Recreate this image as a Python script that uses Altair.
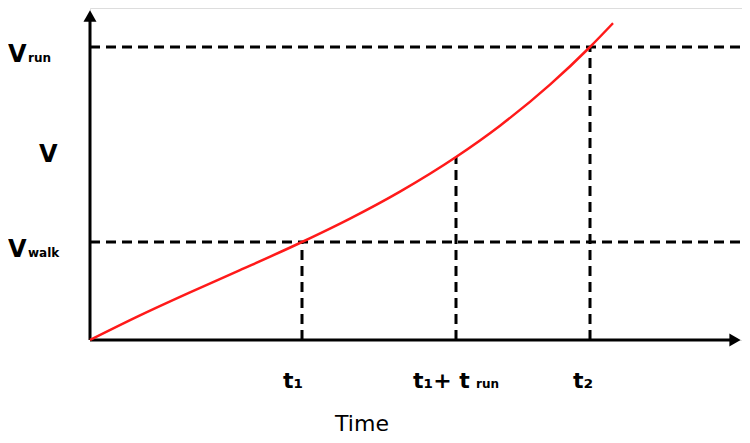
import altair as alt
import pandas as pd

# Curve (time, speed) in chart units
curve_t = [0, 50, 100, 150, 212, 260, 310, 366, 410, 460, 500, 523]
curve_v = [0, 24.6, 47.6, 69.8, 98, 121.4, 148.4, 183, 214.3, 255.4, 293, 316.8]

# Key levels
t_marks = [212, 366, 500]          # t1, t1+t_run, t2
t_main = ["t₁", "t₁+ t", "t₂"]
t_sub = ["", "run", ""]
v_levels = [98, 183, 293]          # V_walk, V, V_run
v_main = ["V", "V", "V"]
v_sub = ["walk", "", "run"]

X_MAX = 652
Y_MAX = 332

xs = alt.Scale(domain=[0, X_MAX], nice=False, zero=False, padding=0)
ys = alt.Scale(domain=[0, Y_MAX], nice=False, zero=False, padding=0)

def X(f, **kw):
    return alt.X(f, type="quantitative", scale=xs, axis=None, **kw)

def Y(f, **kw):
    return alt.Y(f, type="quantitative", scale=ys, axis=None, **kw)

curve_df = pd.DataFrame({"t": curve_t, "v": curve_v})

hdash = pd.DataFrame({"v": [v_levels[0], v_levels[2]], "x0": [0, 0], "x1": [X_MAX, X_MAX]})
vdash = pd.DataFrame({"t": t_marks, "y0": [0, 0, 0], "y1": [v_levels[0], v_levels[1], v_levels[2]]})

axes_df = pd.DataFrame({"x0": [0, 0], "y0": [0, 0], "x1": [644, 0], "y1": [0, 326]})

dash_h = alt.Chart(hdash).mark_rule(color="black", strokeWidth=3, strokeDash=[10, 6]).encode(
    x=X("x0"), x2="x1", y=Y("v"))
dash_v = alt.Chart(vdash).mark_rule(color="black", strokeWidth=3, strokeDash=[10, 6]).encode(
    x=X("t"), y=Y("y0"), y2="y1")

axis_lines = alt.Chart(axes_df).mark_rule(color="black", strokeWidth=3).encode(
    x=X("x0"), y=Y("y0"), x2="x1", y2="y1")

arrow_up = alt.Chart(pd.DataFrame({"x": [0], "y": [324]})).mark_point(
    shape="triangle-up", filled=True, color="black", size=170, opacity=1).encode(x=X("x"), y=Y("y"))
arrow_right = alt.Chart(pd.DataFrame({"x": [645], "y": [0]})).mark_point(
    shape="triangle-right", filled=True, color="black", size=170, opacity=1).encode(x=X("x"), y=Y("y"))

curve = alt.Chart(curve_df).mark_line(color="#ff1a1a", strokeWidth=2.5, interpolate="monotone").encode(
    x=X("t"), y=Y("v"))

FONT = "DejaVu Sans"
layers = [dash_h, dash_v, axis_lines, arrow_up, arrow_right, curve]

# y-axis labels
v_df = pd.DataFrame({"v": v_levels, "main": v_main, "sub": v_sub})
for i, (dx_main, dy) in enumerate([(-82, 15), (-51, 5), (-82, 15)]):
    row = v_df.iloc[[i]]
    layers.append(alt.Chart(row).mark_text(font=FONT, fontSize=24, fontWeight="bold", align="left",
                                           baseline="alphabetic", dy=dy, color="black").encode(
        x=alt.value(dx_main), y=Y("v"), text="main"))
    if v_sub[i]:
        layers.append(alt.Chart(row).mark_text(font=FONT, fontSize=12, align="left", baseline="alphabetic",
                                               dy=dy, fontWeight="bold", color="black").encode(
            x=alt.value(dx_main + 20), y=Y("v"), text="sub"))

# x-axis labels
t_df = pd.DataFrame({"t": t_marks, "main": t_main, "sub": t_sub})
for i, dx in enumerate([-19, -43, -17]):
    row = t_df.iloc[[i]]
    layers.append(alt.Chart(row).mark_text(font=FONT, fontSize=22, fontWeight="bold", align="left",
                                           baseline="alphabetic", dx=dx, color="black").encode(
        x=X("t"), y=alt.value(380), text="main"))
    if t_sub[i]:
        layers.append(alt.Chart(row).mark_text(font=FONT, fontSize=12, align="left", baseline="alphabetic",
                                               dx=dx + 63, fontWeight="bold", color="black").encode(
            x=X("t"), y=alt.value(380), text="sub"))

layers.append(alt.Chart(pd.DataFrame({"label": ["Time"]})).mark_text(
    font=FONT, fontSize=22, align="center", baseline="alphabetic", color="black").encode(
    x=alt.value(272), y=alt.value(423), text="label"))

chart = alt.layer(*layers).properties(
    width=X_MAX, height=Y_MAX,
    autosize=alt.AutoSizeParams(type="none"),
    padding={"left": 82, "top": 0, "right": 0, "bottom": 95},
).configure_view(stroke=None).configure(background="white")

chart.save("out.html", embed_options={"renderer": "svg", "actions": False})
